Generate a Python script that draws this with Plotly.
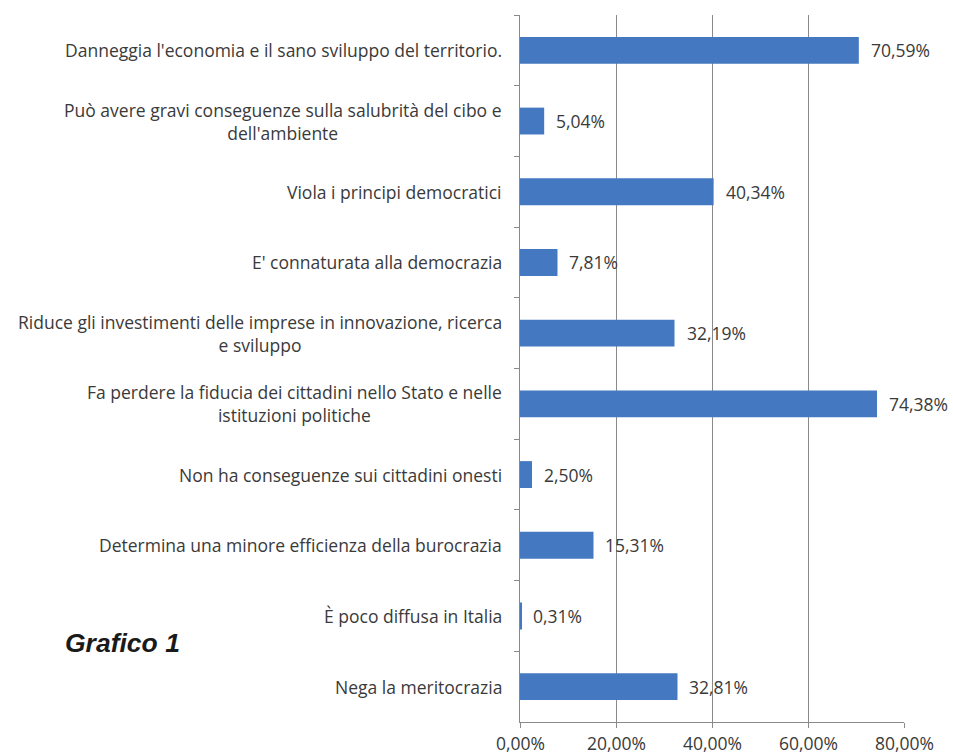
import plotly.graph_objects as go

# Survey answers (top to bottom) and their shares in percent
categories = [
    "Danneggia l'economia e il sano sviluppo del territorio.",
    "Può avere gravi conseguenze sulla salubrità del cibo e<br>dell'ambiente",
    "Viola i principi democratici",
    "E' connaturata alla democrazia",
    "Riduce gli investimenti delle imprese in innovazione, ricerca<br>e sviluppo",
    "Fa perdere la fiducia dei cittadini nello Stato e nelle<br>istituzioni politiche",
    "Non ha conseguenze sui cittadini onesti",
    "Determina una minore efficienza della burocrazia",
    "È poco diffusa in Italia",
    "Nega la meritocrazia",
]
values = [70.59, 5.04, 40.34, 7.81, 32.19, 74.38, 2.50, 15.31, 0.31, 32.81]

tick_vals = [0, 20, 40, 60, 80]
tick_text = ["0,00%", "20,00%", "40,00%", "60,00%", "80,00%"]

LABEL_FONT = dict(family="Open Sans", size=17.5, color="#3a3a3a")
GRID = "#8a8a8a"
BAR = "#4479c2"


def pct(v):
    return f"{v:.2f}".replace(".", ",") + "%"


fig = go.Figure(
    go.Bar(
        x=values,
        y=categories,
        orientation="h",
        marker=dict(color=BAR, line=dict(width=0)),
        hoverinfo="skip",
    )
)

annotations = []
# Category labels, centred per line, right edge just left of the axis
for c in categories:
    annotations.append(dict(
        x=0, y=c, xref="x", yref="y", text=c, showarrow=False,
        xanchor="right", yanchor="middle", align="center", xshift=-16,
        font=LABEL_FONT,
    ))
# Value labels next to the bar ends
for c, v in zip(categories, values):
    annotations.append(dict(
        x=v, y=c, xref="x", yref="y", text=pct(v), showarrow=False,
        xanchor="left", yanchor="middle", xshift=10,
        font=LABEL_FONT,
    ))
# Percent tick labels under the horizontal axis
for tv, tt in zip(tick_vals, tick_text):
    annotations.append(dict(
        x=tv, y=0, xref="x", yref="paper", text=tt, showarrow=False,
        xanchor="center", yanchor="top", yshift=-7,
        font=LABEL_FONT,
    ))
# Chart caption
annotations.append(dict(
    x=-1.19, y=0.112, xref="paper", yref="paper", text="<b><i>Grafico 1</i></b>",
    showarrow=False, xanchor="left", yanchor="middle",
    font=dict(family="Liberation Sans", size=26.5, color="#1a1a1a"),
))

fig.update_layout(
    width=953, height=754,
    margin=dict(l=520, r=49, t=15, b=32),
    paper_bgcolor="white", plot_bgcolor="white",
    showlegend=False,
    bargap=0.62,
    annotations=annotations,
    xaxis=dict(
        range=[0, 80], tickvals=tick_vals, showticklabels=False,
        showgrid=True, gridcolor=GRID, gridwidth=1,
        showline=True, linecolor=GRID, linewidth=1,
        ticks="outside", ticklen=5, tickcolor=GRID,
        zeroline=False, fixedrange=True, automargin=False,
    ),
    yaxis=dict(
        type="category", autorange="reversed",
        showticklabels=False, showgrid=False,
        showline=True, linecolor=GRID, linewidth=1,
        ticks="outside", ticklen=5, tickcolor=GRID, tickson="boundaries",
        zeroline=False, fixedrange=True, automargin=False,
    ),
)

fig.write_html("out.html")
